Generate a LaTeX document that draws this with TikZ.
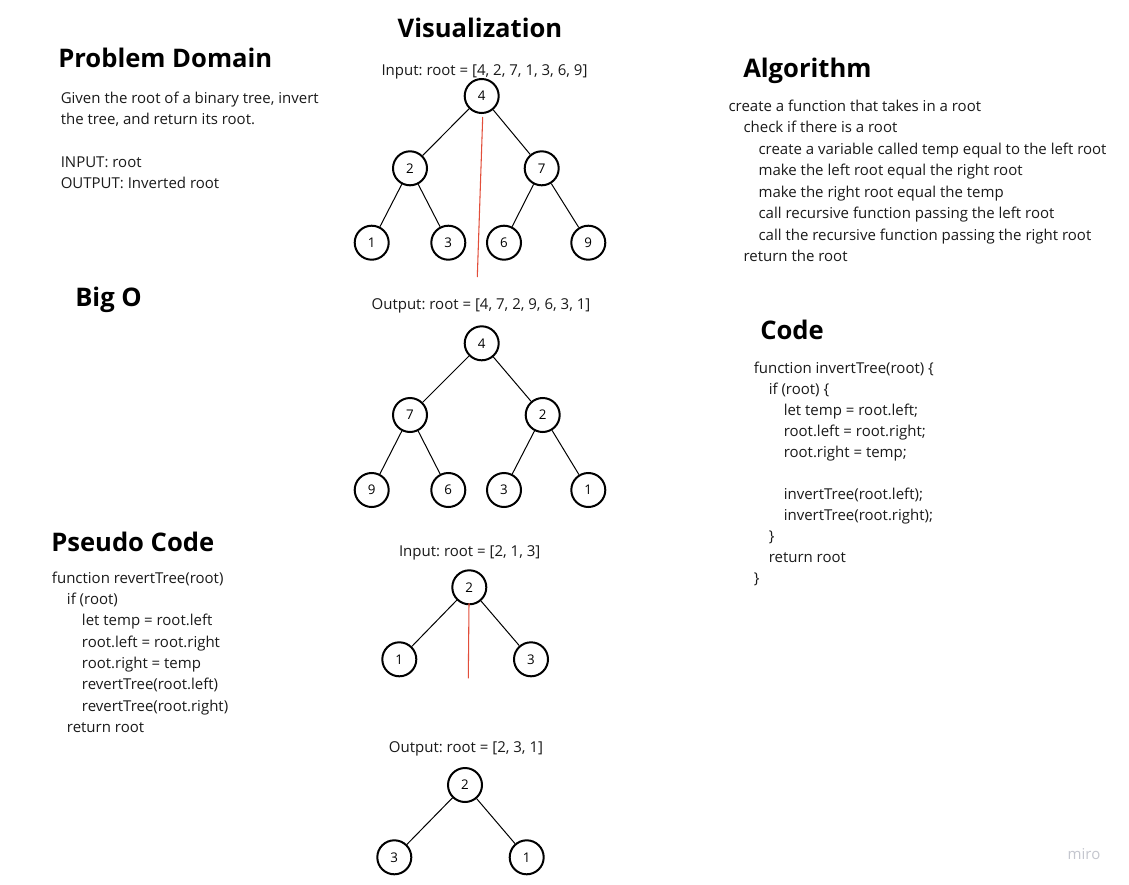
\documentclass[tikz,border=0pt]{standalone}
\usepackage{fontspec}
\setmainfont{Open Sans}
\usepackage{xcolor}
\usepackage{tikz}
\usetikzlibrary{positioning}
\frenchspacing

\definecolor{inktext}{RGB}{26,26,26}
\definecolor{cutred}{RGB}{226,78,58}
\definecolor{logogray}{RGB}{196,198,206}

\begin{document}
\begin{tikzpicture}[x=0.75pt, y=-0.75pt,
  vertex/.style={circle, draw=black, line width=1.5pt, minimum size=25.5pt, inner sep=0pt, font=\fontsize{10}{12}\selectfont},
  edge/.style={draw=black, line width=0.75pt},
  cutline/.style={draw=cutred, line width=0.8pt},
  heading/.style={anchor=base west, inner sep=0pt, font=\fontsize{19.2}{23}\selectfont\bfseries, text=black},
  body/.style={anchor=base west, inner sep=0pt, font=\fontsize{11.25}{14}\selectfont, text=inktext},
  caption/.style={anchor=base, inner sep=0pt, font=\fontsize{11.25}{14}\selectfont, text=inktext}]
\fill[white] (0,0) rectangle (1129,885);
\useasboundingbox (0,0) rectangle (1129,885);
% Problem domain
\node[heading] (pdhead) at (58,67) {Problem Domain};
\node[body] (pd1) at (60.5,103) {Given the root of a binary tree, invert};
\node[body] (pd2) at (60.5,124.5) {the tree, and return its root.};
\node[body] (pd3) at (60.5,167) {INPUT: root};
\node[body] (pd4) at (60.5,188) {OUTPUT: Inverted root};
% Big O
\node[heading] (bighead) at (75,306) {Big O};
% Pseudo code
\node[heading] (pchead) at (51,551) {Pseudo Code};
\node[body] (pc1) at (51.7,583) {function revertTree(root)};
\node[body] (pc2) at (66.7,604) {if (root)};
\node[body] (pc3) at (81.7,625.5) {let temp = root.left};
\node[body] (pc4) at (81.7,647) {root.left = root.right};
\node[body] (pc5) at (81.7,668) {root.right = temp};
\node[body] (pc6) at (81.7,689.5) {revertTree(root.left)};
\node[body] (pc7) at (81.7,711) {revertTree(root.right)};
\node[body] (pc8) at (66.7,732) {return root};
% Visualization title
\node[heading, anchor=base] (vishead) at (480,37) {Visualization};
% Tree 1: input
\node[caption] (in1cap) at (484.5,75) {Input: root = [4, 2, 7, 1, 3, 6, 9]};
\node[vertex] (a4) at (481.7,96) {4};
\node[vertex] (a2) at (410,168.3) {2};
\node[vertex] (a7) at (541.7,168.3) {7};
\node[vertex] (a1) at (371.7,242.7) {1};
\node[vertex] (a3) at (448.3,242.7) {3};
\node[vertex] (a6) at (504,242.7) {6};
\node[vertex] (a9) at (588.3,242.7) {9};
\draw[edge] (a4) -- (a2);
\draw[edge] (a4) -- (a7);
\draw[edge] (a2) -- (a1);
\draw[edge] (a2) -- (a3);
\draw[edge] (a7) -- (a6);
\draw[edge] (a7) -- (a9);
\coordinate (cutAtop) at (482.7,117);
\coordinate (cutAbot) at (477.3,277);
\draw[cutline] (cutAtop) -- (cutAbot);
% Tree 2: output
\node[caption] (out1cap) at (481,309) {Output: root = [4, 7, 2, 9, 6, 3, 1]};
\node[vertex] (b4) at (481.7,343.3) {4};
\node[vertex] (b7) at (410,415) {7};
\node[vertex] (b2) at (542.7,415) {2};
\node[vertex] (b9) at (371.7,490) {9};
\node[vertex] (b6) at (448.3,490) {6};
\node[vertex] (b3) at (504,490) {3};
\node[vertex] (b1) at (588.3,490) {1};
\draw[edge] (b4) -- (b7);
\draw[edge] (b4) -- (b2);
\draw[edge] (b7) -- (b9);
\draw[edge] (b7) -- (b6);
\draw[edge] (b2) -- (b3);
\draw[edge] (b2) -- (b1);
% Tree 3: small input
\node[caption] (in2cap) at (469.7,556) {Input: root = [2, 1, 3]};
\node[vertex] (c2) at (469.3,587.3) {2};
\node[vertex] (c1) at (399.3,659.3) {1};
\node[vertex] (c3) at (531,659.3) {3};
\draw[edge] (c2) -- (c1);
\draw[edge] (c2) -- (c3);
\coordinate (cutBtop) at (469,603.3);
\coordinate (cutBbot) at (468.3,678.3);
\draw[cutline] (cutBtop) -- (cutBbot);
% Tree 4: small output
\node[caption] (out2cap) at (466,752.7) {Output: root = [2, 3, 1]};
\node[vertex] (d2) at (465,785) {2};
\node[vertex] (d3) at (394.3,857.3) {3};
\node[vertex] (d1) at (526.7,857.3) {1};
\draw[edge] (d2) -- (d3);
\draw[edge] (d2) -- (d1);
% Algorithm
\node[heading] (alghead) at (743,77) {Algorithm};
\node[body] (alg1) at (728.3,111) {create a function that takes in a root};
\node[body] (alg2) at (743.3,132.5) {check if there is a root};
\node[body] (alg3) at (758.3,154) {create a variable called temp equal to the left root};
\node[body] (alg4) at (758.3,175.5) {make the left root equal the right root};
\node[body] (alg5) at (758.3,197) {make the right root equal the temp};
\node[body] (alg6) at (758.3,218.5) {call recursive function passing the left root};
\node[body] (alg7) at (758.3,240) {call the recursive function passing the right root};
\node[body] (alg8) at (743.3,261) {return the root};
% Code
\node[heading] (codehead) at (760,339) {Code};
\node[body] (code1) at (753.5,373) {function invertTree(root) \{};
\node[body] (code2) at (768.5,394) {if (root) \{};
\node[body] (code3) at (783.5,415) {let temp = root.left;};
\node[body] (code4) at (783.5,436) {root.left = root.right;};
\node[body] (code5) at (783.5,457) {root.right = temp;};
\node[body] (code6) at (783.5,499) {invertTree(root.left);};
\node[body] (code7) at (783.5,520) {invertTree(root.right);};
\node[body] (code8) at (768.5,541) {\}};
\node[body] (code9) at (768.5,562) {return root};
\node[body] (code10) at (753.5,583) {\}};
% Watermark
\node[font=\fontsize{11.25}{14}\selectfont, text=logogray, inner sep=0pt] (logo) at (1084,854) {miro};
\end{tikzpicture}
\end{document}
